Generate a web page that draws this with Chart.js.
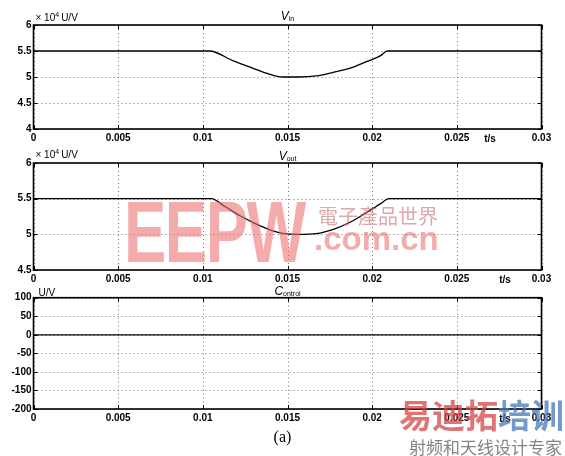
<!DOCTYPE html>
<html>
<head>
<meta charset="utf-8">
<script src="https://cdn.jsdelivr.net/npm/chart.js@4.4.0/dist/chart.umd.min.js"></script>
<style>
  body { margin: 0; background: #fff; width: 565px; height: 456px; overflow: hidden; position: relative; font-family: "Liberation Sans", Arial, sans-serif; }
  .box { position: absolute; left: 0; width: 565px; height: 150px; }
  .mark { position: absolute; white-space: nowrap; pointer-events: none; }
  .caption { position: absolute; left: 0; width: 565px; top: 428px; text-align: center; font: 16px "Liberation Serif", serif; }
</style>
</head>
<body>
<div class="box" style="top:0"><canvas id="vinChart" width="565" height="150"></canvas></div>
<div class="box" style="top:140px"><canvas id="voutChart" width="565" height="150"></canvas></div>
<div class="box" style="top:280px"><canvas id="ctrlChart" width="565" height="150"></canvas></div>
<div class="caption">(a)</div>

<div class="mark" style="left:124px;top:181px;font:bold 88px 'Liberation Sans';color:rgba(236,110,110,0.58);transform:scaleX(0.72);transform-origin:left top;letter-spacing:-2px">EEPW</div>
<div class="mark" style="left:318px;top:201px;font:20px 'Noto Sans CJK TC';color:rgba(200,110,110,0.6)">電子產品世界</div>
<div class="mark" style="left:314px;top:220px;font:bold 33px 'Liberation Sans';color:rgba(236,110,110,0.58)">.com.cn</div>
<div class="mark" style="left:399px;top:390px;font:bold 33px 'Noto Sans CJK SC';color:rgba(214,70,70,0.75)">易迪拓<span style="color:rgba(70,120,185,0.75)">培训</span></div>
<div class="mark" style="left:409px;top:434px;font:17px 'Noto Sans CJK SC';color:rgba(110,110,110,0.85)">射频和天线设计专家</div>

<script>
const xTicks = [0, 0.005, 0.01, 0.015, 0.02, 0.025, 0.03];
const xTickLabels = ['0', '0.005', '0.01', '0.015', '0.02', '0.025', '0.03'];

// V_in, x 10^4 U/V
const vinTime  = [0, 0.0104, 0.0118, 0.0128, 0.0138, 0.0147, 0.0157, 0.0167, 0.0177, 0.0187, 0.0197, 0.0205, 0.0209, 0.03];
const vinValue = [5.5, 5.5, 5.31, 5.19, 5.07, 5.0, 5.0, 5.02, 5.09, 5.17, 5.30, 5.41, 5.5, 5.5];
const vinTicks = [4, 4.5, 5, 5.5, 6];

// V_out, x 10^4 U/V
const voutTime  = [0, 0.0105, 0.0113, 0.0122, 0.0131, 0.0140, 0.0148, 0.0157, 0.0167, 0.0177, 0.0187, 0.0199, 0.0205, 0.0210, 0.03];
const voutValue = [5.5, 5.5, 5.39, 5.26, 5.15, 5.06, 5.01, 5.0, 5.01, 5.07, 5.17, 5.34, 5.43, 5.5, 5.5];
const voutTicks = [4.5, 5, 5.5, 6];

// Control, U/V
const ctrlTime  = [0, 0.03];
const ctrlValue = [0, 0];
const ctrlTicks = [-200, -150, -100, -50, 0, 50, 100];

const tickFont = { family: '"Liberation Sans", Arial, sans-serif', size: 10, weight: 'bold' };

const matlabPlugin = {
  id: 'matlab',
  beforeDatasetsDraw(chart) {
    const { ctx, chartArea: a, scales: { x, y } } = chart;
    ctx.save();
    ctx.strokeStyle = '#707070';
    ctx.lineWidth = 1;
    ctx.setLineDash([1, 3]);
    ctx.beginPath();
    x.ticks.forEach((t) => {
      const px = Math.round(x.getPixelForValue(t.value)) + 0.5;
      ctx.moveTo(px, a.top); ctx.lineTo(px, a.bottom);
    });
    y.ticks.forEach((t) => {
      const py = Math.round(y.getPixelForValue(t.value)) + 0.5;
      ctx.moveTo(a.left, py); ctx.lineTo(a.right, py);
    });
    ctx.stroke();
    ctx.restore();
  },
  afterDatasetsDraw(chart, args, opts) {
    const { ctx, chartArea: a, scales: { x, y } } = chart;
    ctx.save();
    ctx.strokeStyle = '#000';
    ctx.lineWidth = 1;
    ctx.beginPath();
    x.ticks.forEach((t) => {
      const px = Math.round(x.getPixelForValue(t.value)) + 0.5;
      ctx.moveTo(px, a.bottom); ctx.lineTo(px, a.bottom - 4);
      ctx.moveTo(px, a.top); ctx.lineTo(px, a.top + 4);
    });
    y.ticks.forEach((t) => {
      const py = Math.round(y.getPixelForValue(t.value)) + 0.5;
      ctx.moveTo(a.left, py); ctx.lineTo(a.left + 4, py);
      ctx.moveTo(a.right, py); ctx.lineTo(a.right - 4, py);
    });
    ctx.stroke();
    ctx.lineWidth = 1.6;
    ctx.strokeRect(a.left, a.top, a.right - a.left, a.bottom - a.top);

    ctx.fillStyle = '#000';
    ctx.textBaseline = 'alphabetic';
    // title: big letter + small subscript
    const cx = (a.left + a.right) / 2;
    ctx.font = 'italic 12px "Liberation Sans"';
    const w1 = ctx.measureText(opts.title[0]).width;
    ctx.font = '7px "Liberation Sans"';
    const w2 = ctx.measureText(opts.title[1]).width;
    const tx = cx - (w1 + w2) / 2;
    ctx.font = 'italic 12px "Liberation Sans"';
    ctx.fillText(opts.title[0], tx, opts.titleY);
    ctx.font = '7px "Liberation Sans"';
    ctx.fillText(opts.title[1], tx + w1, opts.titleY + 1);

    // unit label
    let ux = a.left + 2;
    ctx.font = '10px "Liberation Sans"';
    if (opts.exp) {
      ctx.fillText('\u00d7 10', ux, opts.unitY);
      ux += ctx.measureText('\u00d7 10').width;
      ctx.font = '7px "Liberation Sans"';
      ctx.fillText('4', ux, opts.unitY - 4);
      ux += ctx.measureText('4').width + 2;
      ctx.font = '10px "Liberation Sans"';
    } else {
      ux += 3;
    }
    ctx.fillText('U/V', ux, opts.unitY);

    // x axis name
    ctx.textAlign = 'center';
    ctx.font = 'bold 10px "Liberation Sans"';
    ctx.fillText('t/s', opts.tsX, a.bottom + 13);
    ctx.restore();
  }
};

function makeChart(id, times, values, yTicks, padding, deco) {
  return new Chart(document.getElementById(id), {
    type: 'line',
    data: {
      datasets: [{
        data: times.map((t, i) => ({ x: t, y: values[i] })),
        borderColor: '#000',
        borderWidth: 1.3,
        pointRadius: 0,
        cubicInterpolationMode: 'monotone',
        fill: false
      }]
    },
    options: {
      responsive: false,
      animation: false,
      layout: { padding },
      plugins: { legend: { display: false }, tooltip: { enabled: false }, matlab: deco },
      scales: {
        x: {
          type: 'linear',
          min: xTicks[0],
          max: xTicks[xTicks.length - 1],
          afterBuildTicks: (s) => { s.ticks = xTicks.map((v) => ({ value: v })); },
          afterFit: (s) => { s.height = 15; },
          grid: { display: false, drawTicks: false },
          border: { display: false },
          ticks: {
            padding: 3, color: '#000', font: tickFont, maxRotation: 0, autoSkip: false,
            callback: (v) => xTickLabels[xTicks.indexOf(v)]
          }
        },
        y: {
          min: yTicks[0],
          max: yTicks[yTicks.length - 1],
          afterBuildTicks: (s) => { s.ticks = yTicks.map((v) => ({ value: v })); },
          afterFit: (s) => { s.width = 33.5; },
          grid: { display: false, drawTicks: false },
          border: { display: false },
          ticks: { padding: 2, color: '#000', font: tickFont, autoSkip: false, callback: (v) => String(v) }
        }
      }
    },
    plugins: [matlabPlugin]
  });
}

makeChart('vinChart', vinTime, vinValue, vinTicks,
  { top: 25, right: 23.5, bottom: 6, left: 0 },
  { title: ['V', 'in'], titleY: 20, unitY: 21, exp: true, tsX: 490 });
makeChart('voutChart', voutTime, voutValue, voutTicks,
  { top: 23, right: 23.5, bottom: 5, left: 0 },
  { title: ['V', 'out'], titleY: 20, unitY: 18, exp: true, tsX: 505 });
makeChart('ctrlChart', ctrlTime, ctrlValue, ctrlTicks,
  { top: 17.7, right: 23.5, bottom: 6, left: 0 },
  { title: ['C', 'ontrol'], titleY: 15, unitY: 16, exp: false, tsX: 505 });
</script>
</body>
</html>
